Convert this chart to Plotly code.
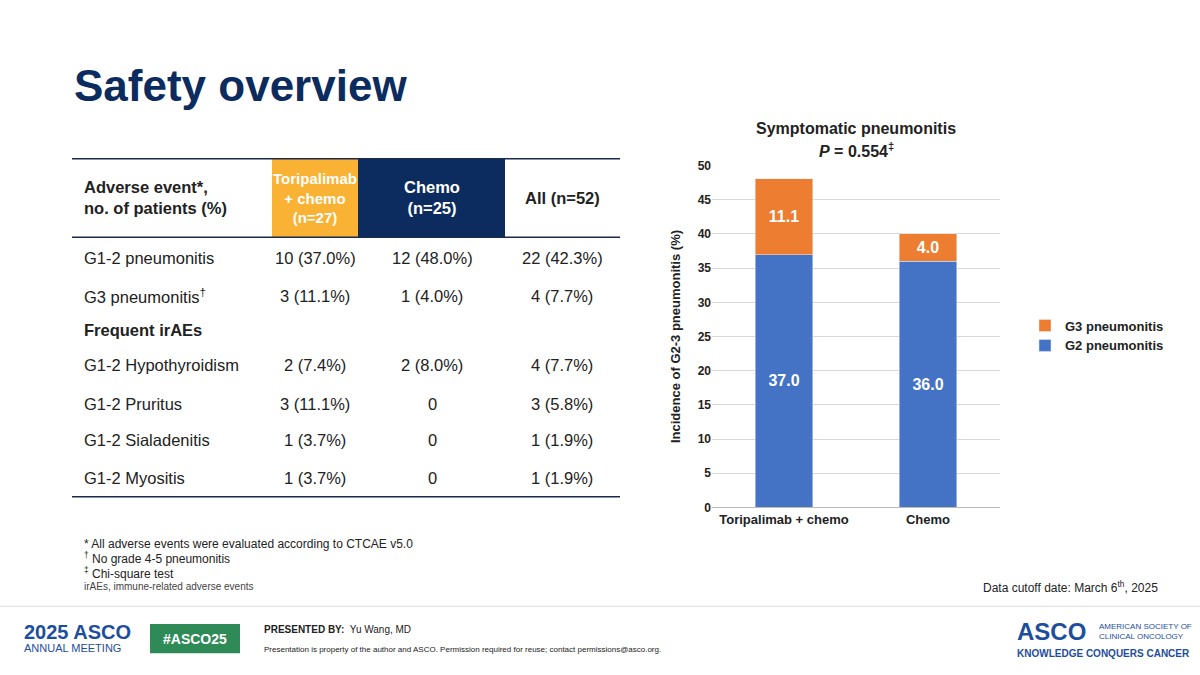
import plotly.graph_objects as go

categories = ["Toripalimab + chemo", "Chemo"]
g2 = [37.0, 36.0]
g3 = [11.1, 4.0]

rows = ["G1-2 pneumonitis", "G3 pneumonitis<sup>†</sup>", "Frequent irAEs", "G1-2 Hypothyroidism",
        "G1-2 Pruritus", "G1-2 Sialadenitis", "G1-2 Myositis"]
col_tori = ["10 (37.0%)", "3 (11.1%)", "", "2 (7.4%)", "3 (11.1%)", "1 (3.7%)", "1 (3.7%)"]
col_chemo = ["12 (48.0%)", "1 (4.0%)", "", "2 (8.0%)", "0", "0", "0"]
col_all = ["22 (42.3%)", "4 (7.7%)", "", "4 (7.7%)", "3 (5.8%)", "1 (1.9%)", "1 (1.9%)"]
row_y = [256, 295, 330, 366, 405, 442, 481]

W, H = 1200, 675
BLUE, ORANGE, NAVY = "#4472C4", "#ED7D31", "#0C2B5E"
F = "Liberation Sans, Arial, sans-serif"

fig = go.Figure()
fig.add_bar(x=categories, y=g2, name="G2 pneumonitis", marker_color=BLUE, width=0.4,
            text=[f"{v:.1f}" for v in g2], textposition="inside", insidetextanchor="middle",
            textfont=dict(color="white", size=16, family=F))
fig.add_bar(x=categories, y=g3, name="G3 pneumonitis", marker_color=ORANGE, width=0.4,
            text=[f"{v:.1f}" for v in g3], textposition="inside", insidetextanchor="middle",
            textfont=dict(color="white", size=16, family=F))

def px(x): return x / W
def py(y): return 1 - y / H

shapes, ann = [], []
def txt(x, y, s, size=16.5, color="#222", bold=False, xa="left", ya="middle", **kw):
    if bold: s = f"<b>{s}</b>"
    ann.append(dict(x=px(x), y=py(y), xref="paper", yref="paper", text=s, showarrow=False,
                    xanchor=xa, yanchor=ya, font=dict(size=size, color=color, family=F), **kw))

txt(72, 80, "Safety overview", size=44, color=NAVY, bold=True)
shapes.append(dict(type="rect", xref="paper", yref="paper", x0=px(272), x1=px(358), y0=py(155), y1=py(235),
                   fillcolor="#F9B233", line_width=0, layer="below"))
shapes.append(dict(type="rect", xref="paper", yref="paper", x0=px(358), x1=px(505), y0=py(155), y1=py(235),
                   fillcolor=NAVY, line_width=0, layer="below"))
for y in [155, 235, 500]:
    shapes.append(dict(type="line", xref="paper", yref="paper", x0=px(72), x1=px(620), y0=py(y), y1=py(y),
                       line=dict(color="#1a2a4a", width=1.5)))
txt(82, 195, "Adverse event*,<br>no. of patients (%)", bold=True, align="left")
txt(315, 195, "Toripalimab<br>+ chemo<br>(n=27)", size=15, color="white", bold=True, xa="center", align="center")
txt(432, 195, "Chemo<br>(n=25)", color="white", bold=True, xa="center", align="center")
txt(562, 195, "All (n=52)", bold=True, xa="center")
for i, y in enumerate(row_y):
    txt(82, y, rows[i], bold=(rows[i] == "Frequent irAEs"))
    txt(315, y, col_tori[i], xa="center")
    txt(432, y, col_chemo[i], xa="center")
    txt(562, y, col_all[i], xa="center")
txt(82, 548, "* All adverse events were evaluated according to CTCAE v5.0", size=12)
txt(82, 563, "<sup>†</sup> No grade 4-5 pneumonitis", size=12)
txt(82, 578, "<sup>‡</sup> Chi-square test", size=12)
txt(82, 592, "irAEs, immune-related adverse events", size=10, color="#444")
txt(1160, 592, "Data cutoff date: March 6<sup>th</sup>, 2025", size=12, xa="right")
txt(856, 124, "Symptomatic pneumonitis", size=16, bold=True, xa="center")
txt(856, 146, "<i>P</i> = 0.554<sup>‡</sup>", size=16, bold=True, xa="center")
shapes.append(dict(type="line", xref="paper", yref="paper", x0=0, x1=1, y0=py(612), y1=py(612),
                   line=dict(color="#ddd", width=1)))
txt(22, 638, "2025 ASCO", size=20, color="#1D4E9E", bold=True)
txt(22, 655, "ANNUAL MEETING", size=11, color="#1D4E9E")
shapes.append(dict(type="rect", xref="paper", yref="paper", x0=px(150), x1=px(240), y0=py(630), y1=py(660),
                   fillcolor="#2E8B57", line_width=0))
txt(195, 645, "#ASCO25", size=14, color="white", bold=True, xa="center")
txt(262, 636, "<b>PRESENTED BY:</b>  Yu Wang, MD", size=10)
txt(262, 656, "Presentation is property of the author and ASCO. Permission required for reuse; contact permissions@asco.org.", size=8)
txt(1015, 638, "ASCO", size=24, color="#1D4E9E", bold=True)
txt(1097, 638, "AMERICAN SOCIETY OF<br>CLINICAL ONCOLOGY", size=8, color="#1D4E9E", align="left")
txt(1015, 660, "KNOWLEDGE CONQUERS CANCER", size=10, color="#1D4E9E", bold=True)

fig.update_layout(
    width=W, height=H, margin=dict(l=0, r=0, t=0, b=0), barmode="stack",
    paper_bgcolor="white", plot_bgcolor="white", font=dict(family=F, color="#222"),
    shapes=shapes, annotations=ann,
    xaxis=dict(domain=[px(712), px(1000)], tickfont=dict(size=13), tickprefix="<b>", ticksuffix="</b>",
               showline=True, linecolor="#bbb"),
    yaxis=dict(domain=[py(511), py(162)], range=[0, 50], dtick=5, gridcolor="#d9d9d9",
               tickfont=dict(size=12), tickprefix="<b>", ticksuffix="</b>", zeroline=False,
               title=dict(text="<b>Incidence of G2-3 pneumonitis (%)</b>", font=dict(size=13), standoff=14)),
    legend=dict(x=px(1025), y=py(310), xanchor="left", yanchor="top", traceorder="reversed",
                font=dict(size=13), itemwidth=30),
    showlegend=True,
)
fig.update_traces(texttemplate="<b>%{text}</b>")
fig.for_each_trace(lambda t: t.update(name=f"<b>{t.name}</b>"))
fig.write_html("out.html", config={"displayModeBar": False},
               post_script="document.body.style.margin='0';document.body.style.overflow='hidden';")
